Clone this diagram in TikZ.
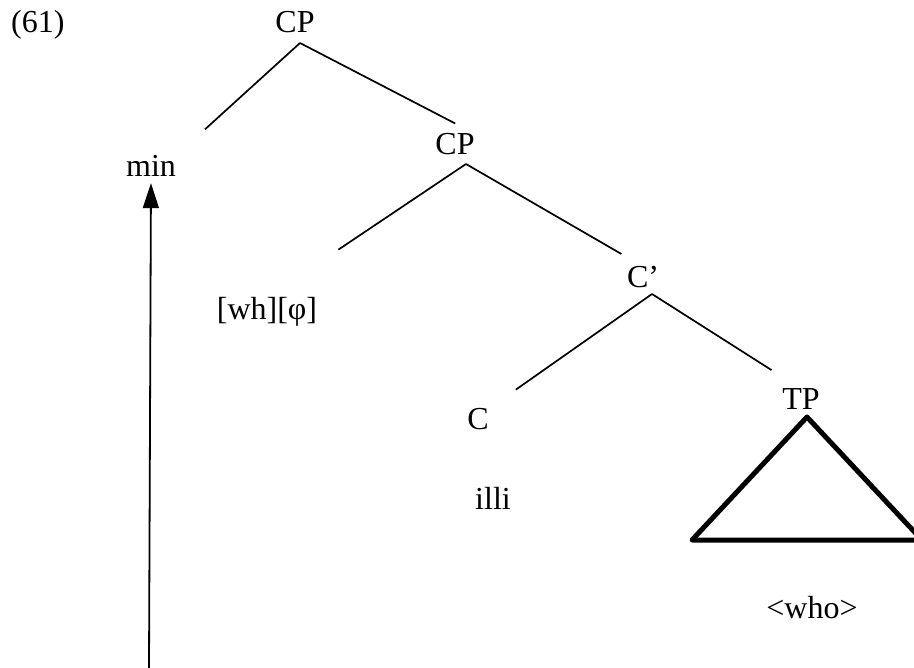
\documentclass[tikz,border=0pt]{standalone}
\usepackage{fontspec}
\setmainfont{Liberation Serif}
\usetikzlibrary{arrows.meta}
\tikzset{
    word/.style={font=\fontsize{32}{38}\selectfont, inner sep=0pt, anchor=base},
    branch/.style={line width=1.7pt, shorten >=#1},
    branch/.default=0pt,
    roof/.style={line width=5pt, line join=round},
    move/.style={line width=1.8pt, -{Triangle[width=16pt,length=25pt]}}
}
\newcommand{\branch}[3] {
	\draw[branch=#3] (#1) -- (#2);
}

\begin{document}
\begin{tikzpicture}[x=1pt, y=-1pt]
		\useasboundingbox (0,0) rectangle (914,668);

		% Example number
		\node[word, anchor=base west] (ex) at (11,33) {(61)};

		% Tree nodes
		\node[word] (cp1) at (295,33) {CP};
		\node[word] (min) at (151,177) {min};
		\node[word] (cp2) at (455,155) {CP};
		\node[word] (wh) at (267,320) {[wh][φ]};
		\node[word] (cbar) at (643,288) {C’};
		\node[word] (c) at (478,430) {C};
		\node[word] (illi) at (493,510) {illi};
		\node[word] (tp) at (801,410) {TP};
		\node[word] (who) at (812,618) {<who>};

		% Branching points
		\coordinate (cp1-j) at (300,43);
		\coordinate (cp2-j) at (466,164);
		\coordinate (cbar-j) at (652,294);

		% Branches
		\branch{cp1-j}{min.north east}{39pt}
		\branch{cp1-j}{cp2.north east}{22pt}
		\branch{cp2-j}{wh.north}{86pt}
		\branch{cp2-j}{cbar.north}{25pt}
		\branch{cbar-j}{c.north east}{33pt}
		\branch{cbar-j}{tp.north}{35pt}

		% Triangle under TP
		\coordinate (tp-top) at (807,417);
		\draw[roof] (tp-top) -- ++(-115,123) -- ++(230,0) -- cycle;

		% Movement of the wh-word
		\coordinate (trace) at (149,668);
		\draw[move, shorten >=6pt] (trace) -- (min.south);
\end{tikzpicture}
\end{document}
